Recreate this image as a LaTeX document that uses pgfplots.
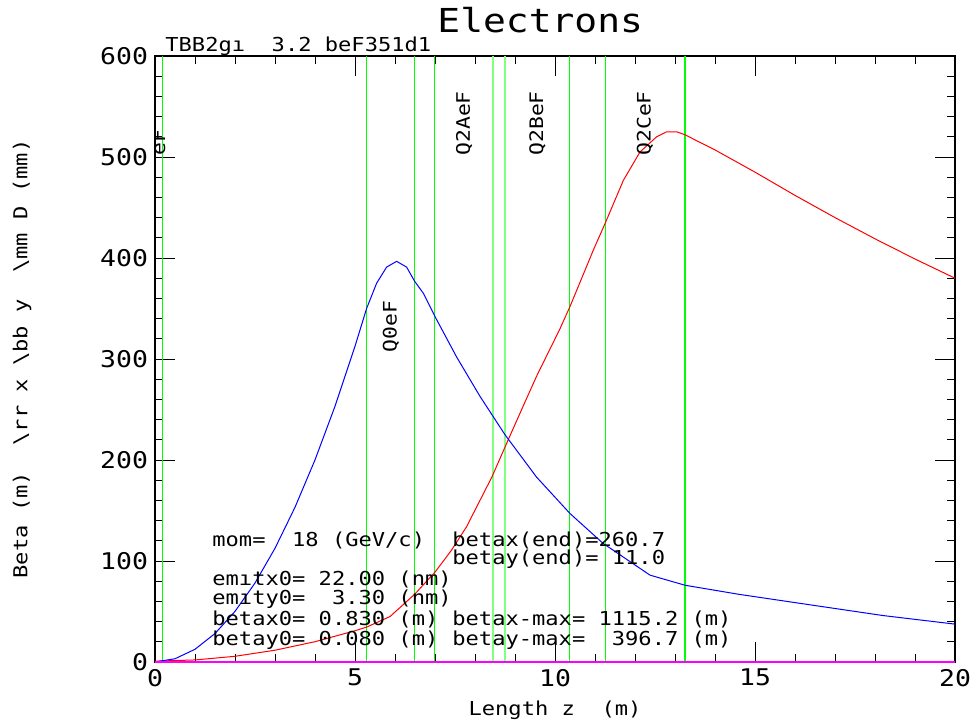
\documentclass[border=0pt]{standalone}
\usepackage{pgfplots}
\pgfplotsset{compat=1.18}
\usepackage{fontspec}
\newfontfamily\pf[FakeStretch=1.15]{DejaVu Sans Mono}
\newcommand\tickfont{\pf\fontsize{11.5}{12}\selectfont}
\newcommand\statfont{\pf\fontsize{9.6}{10}\selectfont}
\newcommand\lblfont{\pf\fontsize{9.3}{10}\selectfont}
\newcommand\titlefont{\pf\fontsize{16.5}{18}\selectfont}
\definecolor{elgreen}{RGB}{0,255,0}
\definecolor{ellight}{RGB}{128,255,128}
\definecolor{bxcol}{RGB}{255,0,0}
\definecolor{bycol}{RGB}{0,0,255}
\definecolor{ddcol}{RGB}{255,0,255}
\begin{document}
\begin{tikzpicture}
\useasboundingbox (-77.5pt,-32.5pt) rectangle (408.5pt,331pt);
\begin{axis}[
  scale only axis, width=400pt, height=303pt,
  at={(0,0)}, anchor=south west,
  xmin=0, xmax=20, ymin=0, ymax=600,
  xtick={0,5,...,20}, ytick={0,100,...,600},
  minor x tick num=4, minor y tick num=4,
  tick align=inside,
  major tick length=10pt, minor tick length=4pt,
  tick style={black, line width=0.5pt},
  axis line style={line width=0.6pt},
  tick label style={font=\tickfont},
  /pgf/number format/assume math mode=true,
]
% element positions (vertical lines from 0 to 600)
\addplot[ycomb, draw=elgreen, line width=0.6pt, mark=none] coordinates {
(0.18,600) (5.29,600) (6.49,600) (6.99,600) (10.36,600) (11.26,600) (13.25,600)};
\addplot[ycomb, draw=ellight, line width=1.1pt, mark=none] coordinates {
(8.44,600) (8.75,600)};
% beta x (red)
\addplot[draw=bxcol, line width=0.5pt, mark=none] coordinates {
(0,0.83) (1,2.03) (2,5.65) (3,11.67) (4,20.11) (5,30.95) (5.29,34.55)
(5.875,45) (6.49,67) (7.0,89) (7.4,110) (7.79,134) (8.42,183) (8.83,220)
(9.2,253) (9.54,283) (10.125,330) (10.375,352) (10.96,408) (11.25,434)
(11.71,477) (12.125,505) (12.54,520) (12.79,525) (13.04,525) (13.25,522)
(14,507) (15,485) (16,462) (17,440) (18,419) (19,399) (20,380)};
% beta y (blue)
\addplot[draw=bycol, line width=0.5pt, mark=none] coordinates {
(0,0.08) (0.5,3.2) (1,12.6) (1.5,28.2) (2,50.1) (2.5,78.2) (3,112.6)
(3.5,153.2) (4,200.1) (4.5,253.2) (5,312.6) (5.29,350) (5.54,375)
(5.79,391) (6.04,396.7) (6.29,391) (6.49,377) (6.71,365) (7.0,342)
(7.54,302) (8.125,263) (8.75,225) (9.54,183) (10.375,147) (11.2,117.5)
(12.375,86) (13.25,76) (14.6,67) (16.14,58) (18.2,46) (20,37.5)};
% dispersion (magenta)
\addplot[draw=ddcol, line width=1pt, mark=none] coordinates {(0,0) (20,0)};
% element labels
\node[rotate=90, anchor=west, inner sep=0, font=\lblfont] at (axis cs:0.09,501) {eF};
\node[rotate=90, anchor=west, inner sep=0, font=\lblfont] at (axis cs:5.9,306) {Q0eF};
\node[rotate=90, anchor=west, inner sep=0, font=\lblfont] at (axis cs:7.73,501) {Q2AeF};
\node[rotate=90, anchor=west, inner sep=0, font=\lblfont] at (axis cs:9.56,501) {Q2BeF};
\node[rotate=90, anchor=west, inner sep=0, font=\lblfont] at (axis cs:12.25,501) {Q2CeF};
\end{axis}
% titles and labels
\node[anchor=base west, inner sep=0, font=\titlefont] at (141pt,314.5pt) {Electrons};
\node[anchor=base west, inner sep=0, font=\statfont] at (5pt,305pt) {TBB2gı~~3.2 beF351d1};
\node[inner sep=0, font=\statfont] at (200pt,-24pt) {Length z~~(m)};
\node[rotate=90, inner sep=0, font=\statfont] at (-66.5pt,151.5pt) {Beta (m)~~\textbackslash rr x \textbackslash bb y~~\textbackslash mm D (mm)};
% statistics
\begin{scope}[every node/.style={anchor=base west, inner sep=0, font=\statfont}]
\node at (28.5pt,57.5pt) {mom=~~18 (GeV/c)};
\node at (148.5pt,57.5pt) {betax(end)=260.7};
\node at (148.5pt,48.5pt) {betay(end)=~11.0};
\node at (28.5pt,38pt) {emıtx0= 22.00 (nm)};
\node at (28.5pt,28.5pt) {emıty0=~~3.30 (nm)};
\node at (28.5pt,18.5pt) {betax0= 0.830 (m)};
\node at (148.5pt,18.5pt) {betax-max= 1115.2 (m)};
\node at (28.5pt,8.5pt) {betay0= 0.080 (m)};
\node at (148.5pt,8.5pt) {betay-max=~~396.7 (m)};
\end{scope}
\end{tikzpicture}
\end{document}
